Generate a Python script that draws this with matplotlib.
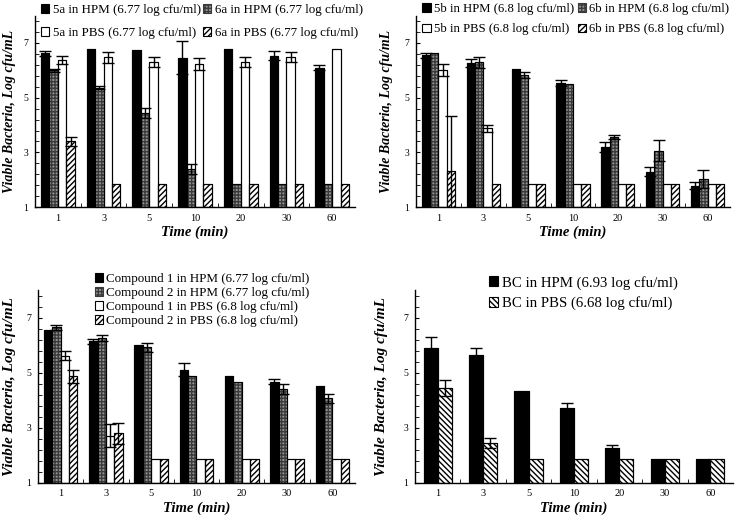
import matplotlib
matplotlib.use("Agg")
import matplotlib.pyplot as plt
import numpy as np
from matplotlib.patches import Patch

plt.rcParams['font.family'] = ['Liberation Serif', 'DejaVu Serif']
plt.rcParams['hatch.linewidth'] = 1.0

times = ['1', '3', '5', '10', '20', '30', '60']

# Panel A (5a / 6a)
a_5a_hpm = [6.62, 6.77, 6.74, 6.46, 6.78, 6.54, 6.10]
a_5a_hpm_err = [0.08, 0.0, 0.0, 0.6, 0.0, 0.17, 0.1]
a_6a_hpm = [6.00, 5.37, 4.44, 2.40, 1.86, 1.86, 1.86]
a_6a_hpm_err = [0.05, 0.07, 0.2, 0.18, 0.0, 0.0, 0.0]
a_5a_pbs = [6.39, 6.48, 6.30, 6.24, 6.30, 6.49, 6.77]
a_5a_pbs_err = [0.15, 0.2, 0.18, 0.22, 0.18, 0.17, 0.0]
a_6a_pbs = [3.40, 1.86, 1.86, 1.86, 1.86, 1.86, 1.86]
a_6a_pbs_err = [0.15, 0, 0, 0, 0, 0, 0]

# Panel B (5b / 6b)
b_5b_hpm = [6.55, 6.27, 6.04, 5.54, 3.20, 2.30, 1.79]
b_5b_hpm_err = [0.1, 0.16, 0.0, 0.12, 0.18, 0.16, 0.12]
b_6b_hpm = [6.62, 6.30, 5.82, 5.51, 3.56, 3.07, 2.04]
b_6b_hpm_err = [0.0, 0.2, 0.1, 0.0, 0.08, 0.37, 0.33]
b_5b_pbs = [6.02, 3.89, 1.86, 1.86, 1.86, 1.86, 1.86]
b_5b_pbs_err = [0.22, 0.13, 0, 0, 0, 0, 0]
b_6b_pbs = [2.34, 1.86, 1.86, 1.86, 1.86, 1.86, 1.86]
b_6b_pbs_err = [1.98, 0, 0, 0, 0, 0, 0]

# Panel C (Compound 1 / 2)
c_1_hpm = [6.57, 6.15, 6.00, 5.11, 4.90, 4.68, 4.52]
c_1_hpm_err = [0.0, 0.1, 0.0, 0.24, 0.0, 0.1, 0.0]
c_2_hpm = [6.66, 6.27, 5.93, 4.89, 4.68, 4.41, 4.07]
c_2_hpm_err = [0.1, 0.1, 0.16, 0.0, 0.0, 0.17, 0.16]
c_1_pbs = [5.63, 2.71, 1.86, 1.86, 1.86, 1.86, 1.86]
c_1_pbs_err = [0.17, 0.43, 0, 0, 0, 0, 0]
c_2_pbs = [4.87, 2.79, 1.86, 1.86, 1.86, 1.86, 1.86]
c_2_pbs_err = [0.24, 0.39, 0, 0, 0, 0, 0]

# Panel D (BC)
d_bc_hpm = [5.92, 5.65, 4.33, 3.72, 2.25, 1.86, 1.86]
d_bc_hpm_err = [0.4, 0.27, 0.0, 0.17, 0.1, 0.0, 0.0]
d_bc_pbs = [4.44, 2.43, 1.86, 1.86, 1.86, 1.86, 1.86]
d_bc_pbs_err = [0.28, 0.18, 0, 0, 0, 0, 0]

labels_a = ['5a in HPM (6.77 log cfu/ml)', '6a in HPM (6.77 log cfu/ml)',
            '5a in PBS (6.77 log cfu/ml)', '6a in PBS (6.77 log cfu/ml)']
labels_b = ['5b in HPM (6.8 log cfu/ml)', '6b in HPM (6.8 log cfu/ml)',
            '5b in PBS (6.8 log cfu/ml)', '6b in PBS (6.8 log cfu/ml)']
labels_c = ['Compound 1 in HPM (6.77 log cfu/ml)', 'Compound 2 in HPM (6.77 log cfu/ml)',
            'Compound 1 in PBS (6.8 log cfu/ml)', 'Compound 2 in PBS (6.8 log cfu/ml)']
labels_d = ['BC in HPM (6.93 log cfu/ml)', 'BC in PBS (6.68 log cfu/ml)']

STY = {
    'black': dict(facecolor='black', edgecolor='black', hatch=None),
    'gray': dict(facecolor='#949494', edgecolor='#3a3a3a', hatch='+++++'),
    'white': dict(facecolor='white', edgecolor='black', hatch=None),
    'hatch': dict(facecolor='white', edgecolor='black', hatch='//////'),
    'bhatch': dict(facecolor='white', edgecolor='black', hatch='\\\\\\\\\\\\'),
}

fig = plt.figure(figsize=(7.45, 5.18), dpi=100)


def panel(rect, series, errs, styles, group_w, ylab_size, ylab_pad):
    ax = fig.add_axes(rect)
    x = np.arange(len(times))
    n = len(series)
    w = group_w / n
    handles = []
    for i, (vals, err, st) in enumerate(zip(series, errs, styles)):
        pos = x - group_w / 2 + w * (i + 0.5)
        s = STY[st]
        ax.bar(pos, np.array(vals) - 1, bottom=1, width=w, facecolor=s['facecolor'],
               edgecolor=s['edgecolor'], hatch=s['hatch'], linewidth=0.8, zorder=2)
        ax.bar(pos, np.array(vals) - 1, bottom=1, width=w, facecolor='none',
               edgecolor='black', linewidth=0.8, zorder=3)
        e = np.array(err, dtype=float)
        mask = e > 0
        ax.errorbar(pos[mask], np.array(vals)[mask], yerr=e[mask], fmt='none',
                    ecolor='black', elinewidth=1.0, capsize=4, capthick=1.0, zorder=4)
        handles.append(Patch(facecolor=s['facecolor'], edgecolor='black' if st != 'gray' else '#3a3a3a',
                             hatch=s['hatch'], linewidth=0.8))
    ax.set_xlim(-0.5, len(times) - 0.5)
    ax.set_ylim(1, 8)
    ax.set_yticks([1, 3, 5, 7])
    ax.set_yticks(np.arange(1, 8.01, 0.4), minor=True)
    ax.set_xticks(x)
    ax.set_xticklabels(times)
    ax.set_xticks(np.arange(0.5, len(times) - 0.9, 1.0), minor=True)
    ax.tick_params(axis='y', which='major', direction='in', length=3, pad=5, labelsize=7)
    ax.tick_params(axis='y', which='minor', direction='in', length=3)
    ax.tick_params(axis='x', which='major', length=0, pad=5, labelsize=7.5)
    ax.tick_params(axis='x', which='minor', direction='in', length=3)
    for sp in ['top', 'right']:
        ax.spines[sp].set_visible(False)
    ax.spines['left'].set_linewidth(1.0)
    ax.spines['bottom'].set_linewidth(1.0)
    ax.set_xlabel('Time (min)', fontsize=10.5, fontweight='bold', fontstyle='italic', labelpad=2)
    ax.set_ylabel('Viable Bacteria, Log cfu/mL', fontsize=ylab_size, fontweight='bold',
                  fontstyle='italic', labelpad=ylab_pad)
    return ax, handles


lkw = dict(frameon=False, handlelength=0.65, handleheight=0.65, handletextpad=0.25,
           borderpad=0, borderaxespad=0, bbox_transform=fig.transFigure)

# Panel A
ax1, h1 = panel([0.047, 0.60, 0.4295, 0.37],
                [a_5a_hpm, a_6a_hpm, a_5a_pbs, a_6a_pbs],
                [a_5a_hpm_err, a_6a_hpm_err, a_5a_pbs_err, a_6a_pbs_err],
                ['black', 'gray', 'white', 'hatch'], 0.74, 10, 5)
ax1.legend([h1[0], h1[2], h1[1], h1[3]], [labels_a[0], labels_a[2], labels_a[1], labels_a[3]],
           ncol=2, loc='upper left', bbox_to_anchor=(0.055, 0.992), fontsize=9.4,
           columnspacing=0.15, labelspacing=0.85, **lkw)

# Panel B
ax2, h2 = panel([0.5584, 0.60, 0.4215, 0.37],
                [b_5b_hpm, b_6b_hpm, b_5b_pbs, b_6b_pbs],
                [b_5b_hpm_err, b_6b_hpm_err, b_5b_pbs_err, b_6b_pbs_err],
                ['black', 'gray', 'white', 'hatch'], 0.74, 10, 8)
ax2.legend([h2[0], h2[2], h2[1], h2[3]], [labels_b[0], labels_b[2], labels_b[1], labels_b[3]],
           ncol=2, loc='upper left', bbox_to_anchor=(0.567, 0.994), fontsize=9.2,
           columnspacing=0.3, labelspacing=0.65, **lkw)

# Panel C
ax3, h3 = panel([0.051, 0.0685, 0.4255, 0.3707],
                [c_1_hpm, c_2_hpm, c_1_pbs, c_2_pbs],
                [c_1_hpm_err, c_2_hpm_err, c_1_pbs_err, c_2_pbs_err],
                ['black', 'gray', 'white', 'hatch'], 0.74, 11, 7.5)
ax3.legend(h3, labels_c, ncol=1, loc='upper left', bbox_to_anchor=(0.127, 0.473),
           fontsize=9.4, labelspacing=0.15, **lkw)

# Panel D
ax4, h4 = panel([0.557, 0.0685, 0.4268, 0.3707],
                [d_bc_hpm, d_bc_pbs],
                [d_bc_hpm_err, d_bc_pbs_err],
                ['black', 'bhatch'], 0.62, 11, 11)
ax4.legend(h4, labels_d, ncol=1, loc='upper left', bbox_to_anchor=(0.656, 0.468),
           fontsize=10.7, labelspacing=0.45, **lkw)

fig.savefig('out.png', dpi=100)
